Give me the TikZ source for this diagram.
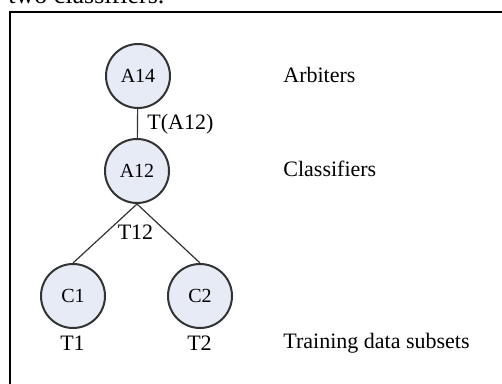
\documentclass[tikz,border=0pt]{standalone}
\usepackage{fontspec}
\setmainfont{Liberation Serif}
\definecolor{nodefill}{HTML}{E6EBF5}
\definecolor{linegray}{HTML}{333333}

\begin{document}
\begin{tikzpicture}[x=0.5pt,y=-0.5pt,
  member/.style={circle,draw=linegray,line width=1pt,fill=nodefill,
    minimum size=32pt,inner sep=0pt,font=\fontsize{10}{12}\selectfont},
  link/.style={draw=linegray,line width=0.6pt},
  tag/.style={anchor=base west,inner sep=0pt,font=\fontsize{11}{13}\selectfont},
  sub/.style={anchor=base,inner sep=0pt,font=\fontsize{11}{13}\selectfont}]
  \useasboundingbox (0,0) rectangle (502,384);
  \fill[white] (0,0) rectangle (502,384);

  \node[anchor=base west,inner sep=0pt,font=\fontsize{13}{15}\selectfont]
    (caption) at (8,4) {two classifiers.};
  \draw[line width=1pt] (9.5,12) rectangle (530,420);

  \node[member] (A14) at (138,76) {A14};
  \node[member] (A12) at (137,171) {A12};
  \node[member] (C1) at (73,296) {C1};
  \node[member] (C2) at (200,296) {C2};

  \draw[link] (A14) -- (A12);
  \draw[link] (A12.south) -- (C1.north);
  \draw[link] (A12.south) -- (C2.north);

  \node[tag] (TA12) at (147,130) {T(A12)};
  \node[sub] (T12) at (135.5,240) {T12};
  \node[sub] (T1) at (72.5,350) {T1};
  \node[sub] (T2) at (199.5,350) {T2};

  \node[tag] (arb) at (283,83) {Arbiters};
  \node[tag] (cls) at (283,177) {Classifiers};
  \node[tag] (trn) at (283,348) {Training data subsets};
\end{tikzpicture}
\end{document}
